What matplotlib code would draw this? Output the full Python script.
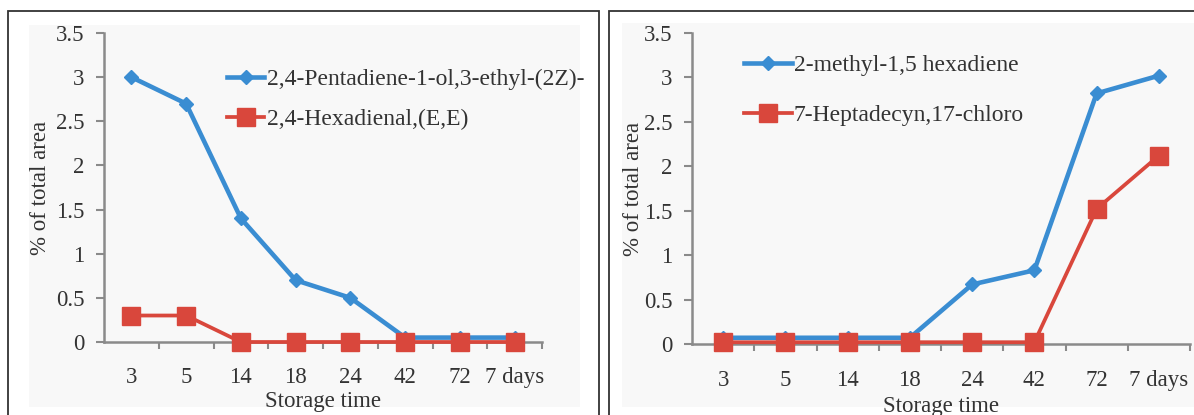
import matplotlib
matplotlib.use("Agg")
import matplotlib.pyplot as plt
from matplotlib.patches import Rectangle

plt.rcParams['font.family'] = ['Liberation Serif', 'DejaVu Serif']

categories = ["3", "5", "14", "18", "24", "42", "72", "7 days"]

left_blue_label = "2,4-Pentadiene-1-ol,3-ethyl-(2Z)-"
left_blue = [3.0, 2.7, 1.4, 0.7, 0.5, 0.05, 0.05, 0.05]
left_red_label = "2,4-Hexadienal,(E,E)"
left_red = [0.3, 0.3, 0.0, 0.0, 0.0, 0.0, 0.0, 0.0]

right_blue_label = "2-methyl-1,5 hexadiene"
right_blue = [0.07, 0.07, 0.07, 0.07, 0.67, 0.83, 2.82, 3.02]
right_red_label = "7-Heptadecyn,17-chloro"
right_red = [0.02, 0.02, 0.02, 0.02, 0.02, 0.02, 1.52, 2.12]

yticks = [0, 0.5, 1, 1.5, 2, 2.5, 3, 3.5]
ytick_labels = ["0", "0.5", "1", "1.5", "2", "2.5", "3", "3.5"]

BLUE = "#3A8DD2"
RED = "#D9473C"
GRAY = "#8a8a8a"
TXT = "#333333"
FS = 16.5
LFS = 17

W, H = 1194, 415
fig = plt.figure(figsize=(W / 100, H / 100), dpi=100)
fig.patch.set_facecolor("white")

def px(x0, y0, x1, y1):
    # pixel box (top-left origin) -> figure fraction rect
    return [x0 / W, 1 - y1 / H, (x1 - x0) / W, (y1 - y0) / H]

# panel frames and inner shaded areas
for (bx0, bx1, ix0, iy0, ix1) in [(8, 599, 29, 25, 580), (609, 1200, 622, 23, 1194)]:
    fig.patches.append(Rectangle((ix0 / W, 1 - 407 / H), (ix1 - ix0) / W, (407 - iy0) / H,
                                 transform=fig.transFigure, facecolor="#f8f8f8",
                                 edgecolor="none", zorder=-3))
    fig.patches.append(Rectangle((bx0 / W, -0.05), (bx1 - bx0) / W, 1.05 - 11 / H,
                                 transform=fig.transFigure, facecolor="none",
                                 edgecolor="#333333", linewidth=1.3, zorder=-2))

def panel(rect, blue, red, blabel, rlabel, legend_anchor, handlelength, labelspacing,
          xlab_y, ylab_x, tick_pad):
    ax = fig.add_axes(rect)
    ax.set_zorder(5)
    ax.set_facecolor("none")
    x = list(range(len(categories)))
    ax.plot(x, blue, color=BLUE, lw=3.3, marker="D", markersize=7.5,
            markerfacecolor=BLUE, markeredgecolor=BLUE, label=blabel, zorder=3)
    ax.plot(x, red, color=RED, lw=2.7, marker="s", markersize=12.5,
            markerfacecolor=RED, markeredgecolor=RED, label=rlabel, zorder=4,
            clip_on=False)
    ax.set_xlim(-0.5, len(categories) - 0.5)
    ax.set_ylim(0, 3.5)
    ax.set_yticks(yticks)
    ax.set_yticklabels(ytick_labels, fontsize=FS, color=TXT)
    ax.set_xticks(x)
    ax.set_xticklabels(categories, fontsize=FS, color=TXT)
    ax.set_xticks([i + 0.5 for i in range(len(categories))], minor=True)
    ax.tick_params(axis="x", which="major", length=0, pad=tick_pad)
    ax.tick_params(axis="x", which="minor", length=5, width=1.5, color=GRAY, direction="out")
    ax.tick_params(axis="y", length=6, width=1.5, color=GRAY, direction="out", pad=8)
    for s in ["top", "right"]:
        ax.spines[s].set_visible(False)
    for s in ["left", "bottom"]:
        ax.spines[s].set_color(GRAY)
        ax.spines[s].set_linewidth(1.8)
    ax.set_xlabel("Storage time", fontsize=FS, color=TXT)
    ax.xaxis.set_label_coords(0.5, xlab_y)
    ax.set_ylabel("% of total area", fontsize=FS, color=TXT)
    ax.yaxis.set_label_coords(ylab_x, 0.5)
    leg = ax.legend(loc="upper left", bbox_to_anchor=legend_anchor, frameon=False,
                    fontsize=LFS, handlelength=handlelength, handletextpad=0.1,
                    labelspacing=labelspacing, borderaxespad=0, borderpad=0)
    for t in leg.get_texts():
        t.set_color(TXT)
    return ax

# left panel: axis x 104..542, y 33..342
panel(px(104, 33, 542, 342), left_blue, left_red, left_blue_label, left_red_label,
      legend_anchor=(0.28, 0.885), handlelength=1.6, labelspacing=0.8,
      xlab_y=-0.158, ylab_x=-0.12, tick_pad=18)
# right panel: axis x 692..1190, y 33..344
panel(px(692, 33, 1190, 344), right_blue, right_red, right_blue_label, right_red_label,
      legend_anchor=(0.105, 0.93), handlelength=2.0, labelspacing=1.2,
      xlab_y=-0.168, ylab_x=-0.097, tick_pad=19)

fig.savefig("out.png", dpi=100)
